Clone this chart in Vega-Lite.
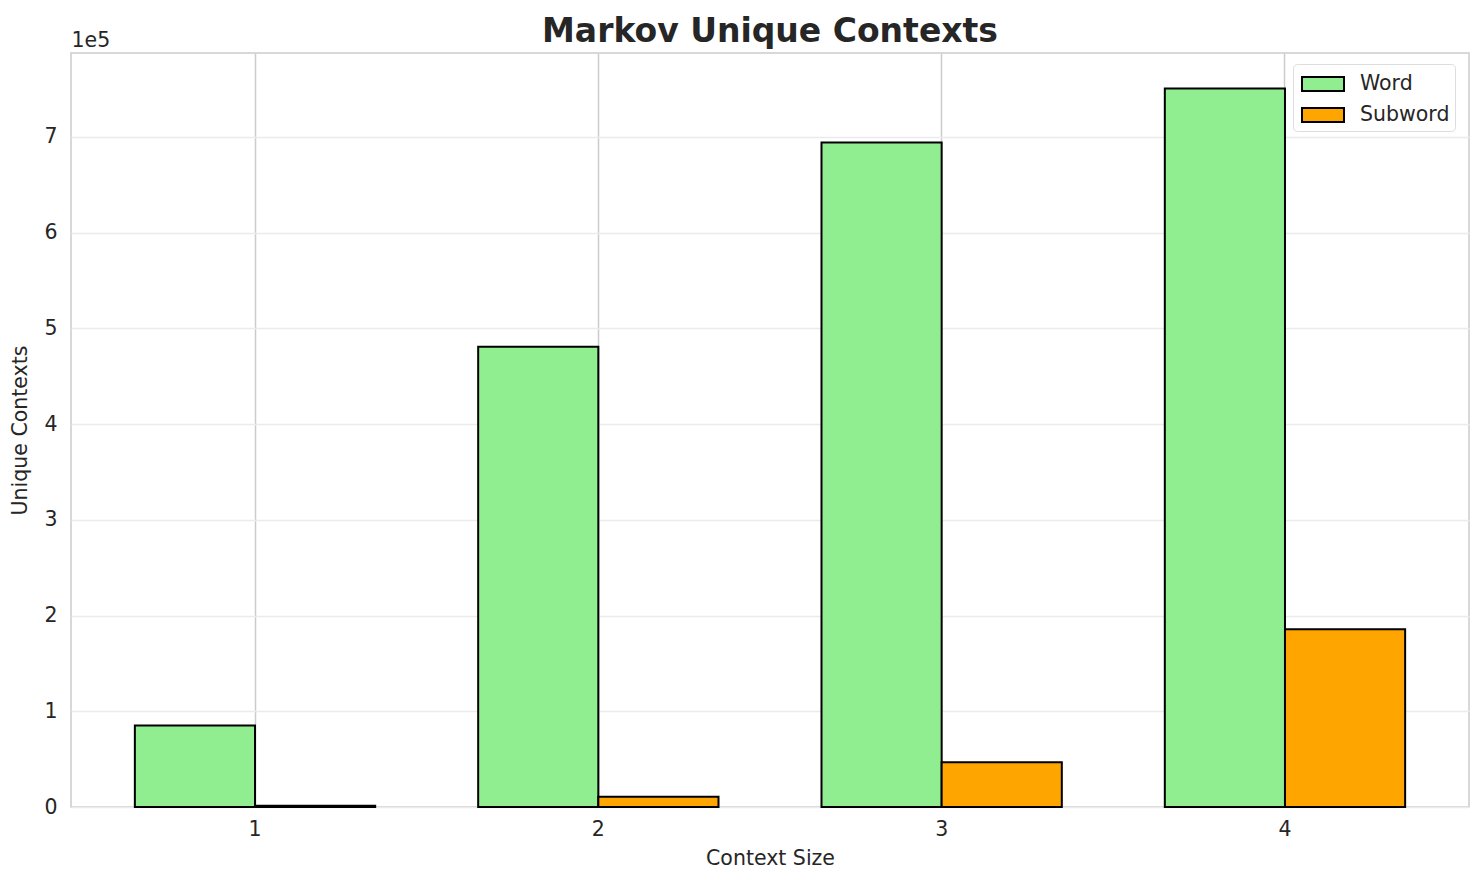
{
  "$schema": "https://vega.github.io/schema/vega-lite/v6.json",
  "width": 1398,
  "height": 754,
  "autosize": "none",
  "padding": {"left": 71, "top": 53, "right": 15, "bottom": 78},
  "background": "white",
  "config": {
    "font": "DejaVu Sans",
    "view": {"stroke": "#cccccc", "strokeWidth": 1.5},
    "axis": {"labelFont": "DejaVu Sans", "titleFont": "DejaVu Sans", "labelColor": "#262626", "titleColor": "#262626", "labelFontSize": 20.5, "titleFontSize": 20.5, "titleFontWeight": "normal", "ticks": false, "domain": false}
  },
  "title": {"text": "Markov Unique Contexts", "fontSize": 33, "fontWeight": "bold", "color": "#262626", "font": "DejaVu Sans", "anchor": "middle", "offset": -19},
  "data": {
    "values": [
      {"size": "1", "type": "Word", "value": 85000},
      {"size": "1", "type": "Subword", "value": 1300},
      {"size": "2", "type": "Word", "value": 480800},
      {"size": "2", "type": "Subword", "value": 10800},
      {"size": "3", "type": "Word", "value": 694000},
      {"size": "3", "type": "Subword", "value": 46700},
      {"size": "4", "type": "Word", "value": 750300},
      {"size": "4", "type": "Subword", "value": 185700}
    ]
  },
  "encoding": {
    "x": {
      "field": "size", "type": "nominal", "sort": ["1", "2", "3", "4"],
      "scale": {"paddingInner": 0.3, "paddingOuter": 0.186},
      "axis": {"title": "Context Size", "labelAngle": 0, "grid": true, "gridColor": "#cccccc", "gridWidth": 1.5, "bandPosition": 0.5, "labelPadding": 12, "titlePadding": 9}
    },
    "xOffset": {"field": "type", "type": "nominal", "sort": ["Word", "Subword"], "scale": {"domain": ["Word", "Subword"]}},
    "y": {"field": "value", "type": "quantitative", "scale": {"domain": [0, 787500], "nice": false}}
  },
  "layer": [
    {
      "mark": {"type": "bar", "stroke": "black", "strokeWidth": 2},
      "encoding": {
        "y": {
          "field": "value", "type": "quantitative", "scale": {"domain": [0, 787500], "nice": false},
          "axis": {"title": "Unique Contexts", "values": [0, 100000, 200000, 300000, 400000, 500000, 600000, 700000], "labelExpr": "format(datum.value / 100000, 'd')", "grid": true, "gridColor": "#ebebeb", "gridWidth": 1.5, "labelPadding": 14, "titlePadding": 13}
        },
        "color": {
          "field": "type", "type": "nominal", "sort": ["Word", "Subword"],
          "scale": {"domain": ["Word", "Subword"], "range": ["#90EE90", "#FFA500"]},
          "legend": {
            "title": null, "orient": "none", "legendX": 1222, "legendY": 11,
            "symbolType": "M-1.5,-0.5H1.5V0.5H-1.5Z", "symbolSize": 784, "symbolStrokeColor": "black", "symbolStrokeWidth": 2, "symbolOffset": 10,
            "labelFontSize": 20.5, "labelFont": "DejaVu Sans", "labelColor": "#262626", "labelOffset": 22,
            "rowPadding": 5, "padding": 5, "fillColor": "white", "strokeColor": "#dddddd", "cornerRadius": 4
          }
        }
      }
    },
    {
      "mark": {"type": "bar", "opacity": 0},
      "encoding": {
        "y": {
          "field": "value", "type": "quantitative", "scale": {"domain": [0, 787500], "nice": false},
          "axis": {"orient": "left", "title": "1e5", "titleAngle": 0, "titleX": 0, "titleY": -7, "titleAlign": "left", "titleBaseline": "alphabetic", "labels": false, "grid": false, "ticks": false, "domain": false}
        }
      }
    }
  ],
  "resolve": {"axis": {"y": "independent"}}
}
